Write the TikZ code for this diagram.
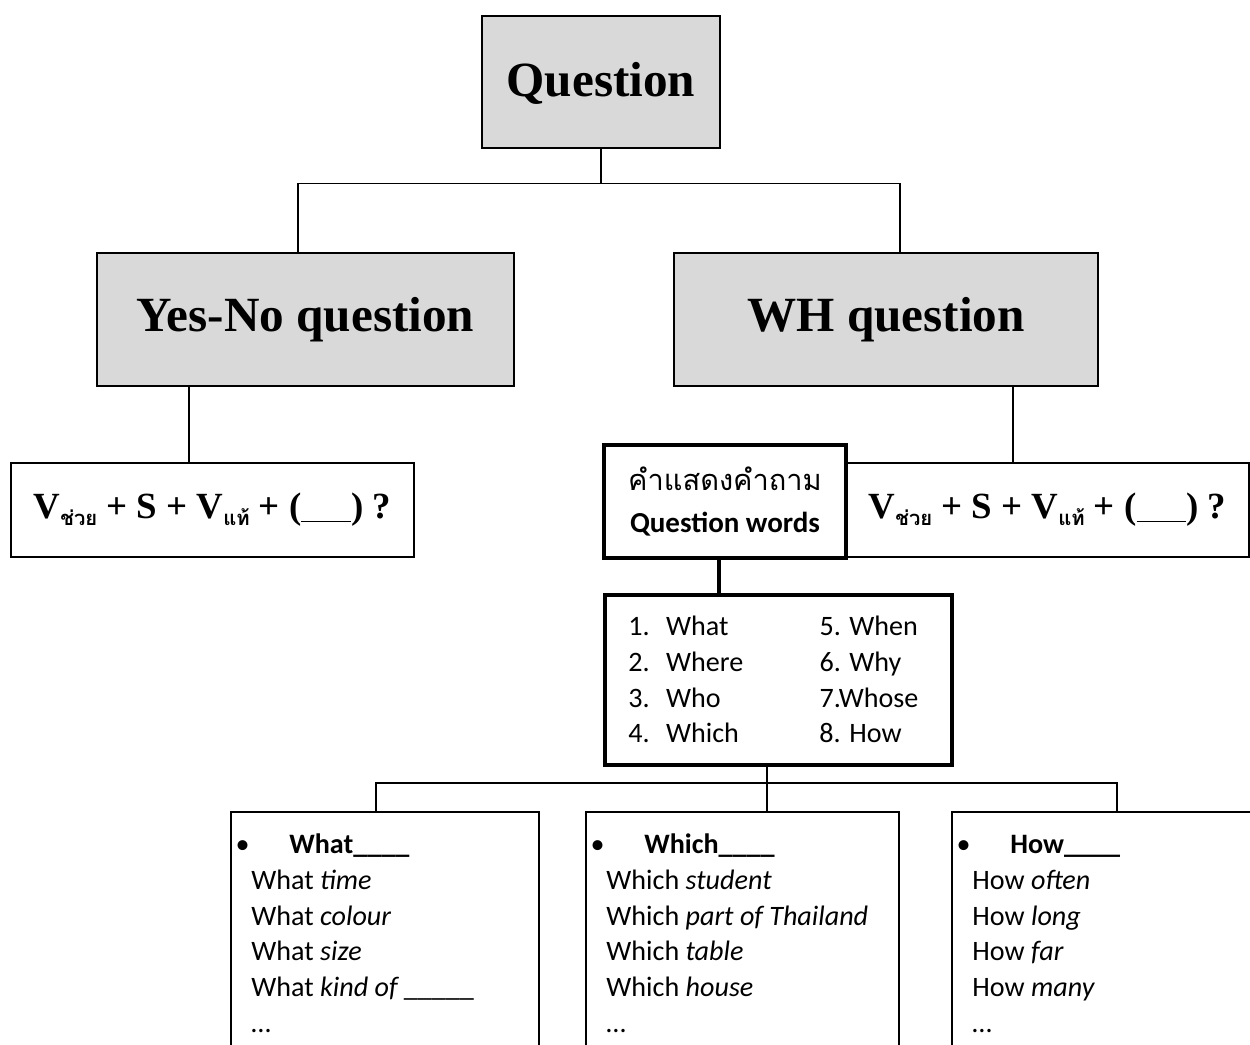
\documentclass[tikz,border=0pt]{standalone}
\usepackage{fontspec}
\setmainfont{Liberation Serif}
\newfontfamily\calib{Carlito}
\newfontfamily\thaifont[Script=Thai]{Loma}
\usetikzlibrary{positioning}
\definecolor{boxgray}{RGB}{217,217,217}

\newcommand{\thaisub}[1]{\raisebox{-4pt}{\thaifont\bfseries\fontsize{11.5}{12}\selectfont #1}}
\newcommand{\vform}{V\thaisub{ช่วย} + S + V\thaisub{แท้} + (\underline{\hspace{1.35em}}) ?}

\begin{document}
\begin{tikzpicture}[x=0.02cm,y=-0.02cm,
	head/.style={draw,fill=boxgray,line width=0.85pt,inner sep=0,font=\bfseries\fontsize{28}{32}\selectfont},
	formbox/.style={draw,fill=white,line width=0.85pt,inner sep=0,minimum width=8.06cm,minimum height=1.88cm,font=\bfseries\fontsize{21}{24}\selectfont},
	boldbox/.style={draw,fill=white,line width=2.3pt,inner sep=0},
	wordbox/.style={draw,line width=0.85pt,inner sep=0,anchor=north,minimum height=5cm},
	wordtext/.style={anchor=north west,inner sep=0,align=left,font=\calib\fontsize{16}{20.4}\selectfont},
	link/.style={line width=0.85pt},
	thicklink/.style={line width=2.3pt}]
				\useasboundingbox (0,0) rectangle (1250,1044);
				\clip (0,0) rectangle (1250,1044);
				% top levels
				\node[head,minimum width=4.76cm,minimum height=2.64cm,text depth=0.1cm] (quest) at (601,82) {Question};
				\node[head,minimum width=8.34cm,minimum height=2.66cm] (yesno) at (305.5,319.5) {Yes-No question};
				\node[head,minimum width=8.48cm,minimum height=2.66cm] (wh) at (886,319.5) {WH question};
				\coordinate (ynTop) at ([xshift=-0.15cm]yesno.north);
				\coordinate (whTop) at ([xshift=0.28cm]wh.north);
				\draw[link] (quest.south) -- ++(0,35) -| (ynTop);
				\draw[link] (quest.south) -- ++(0,35) -| (whTop);
				% formulas
				\node[formbox] (ynform) at (212.5,510) {\vform};
				\node[formbox] (whform) at (1047.5,510) {\vform};
				\coordinate (ynFoot) at ([xshift=-2.33cm]yesno.south);
				\coordinate (whFoot) at ([xshift=2.54cm]wh.south);
				\draw[link] (ynFoot) -- (ynFoot |- ynform.north);
				\draw[link] (whFoot) -- (whFoot |- whform.north);
				% question words
				\node[boldbox,minimum width=4.84cm,minimum height=2.26cm,align=center,font=\fontsize{16.5}{24.4}\selectfont] (qw) at (725,501.5) {{\thaifont คำแสดงคำถาม}\\{\calib\bfseries Question words}};
				\node[boldbox,minimum width=6.94cm,minimum height=3.4cm] (list) at (778.5,680) {};
				\node[anchor=north west,inner sep=0,font=\calib\fontsize{16}{20.4}\selectfont] (listtext) at ([xshift=0.5cm,yshift=-0.34cm]list.north west) {%
					\begin{tabular}{@{}p{21.5pt}@{}p{87.3pt}@{}l@{}}
						1. & What & 5. When\\
						2. & Where & 6. Why\\
						3. & Who & 7.Whose\\
						4. & Which & 8. How
					\end{tabular}};
				\draw[thicklink] ([xshift=-0.12cm]qw.south) -- ([xshift=-0.12cm]qw.south |- list.north);
				% bottom boxes
				\node[wordbox,minimum width=6.16cm] (what) at (385,811) {};
				\node[wordbox,minimum width=6.26cm] (which) at (742.5,811) {};
				\node[wordbox,minimum width=6.06cm] (how) at (1103.5,811) {};
				\coordinate (listFoot) at ([xshift=-0.23cm]list.south);
				\draw[link] (listFoot) -- ++(0,16) -| ([xshift=-0.18cm]what.north);
				\draw[link] (listFoot) -- ++(0,16) -| ([xshift=0.27cm]how.north);
				\draw[link] (listFoot) -- (listFoot |- which.north);
				\node[wordtext] (whattext) at ([xshift=0.1cm,yshift=-0.34cm]what.north west) {%
					\strut\makebox[30.6pt][l]{\textbullet}\textbf{What\_\_\_\_}\\
					\hspace*{9pt}What \textit{time}\\
					\hspace*{9pt}What \textit{colour}\\
					\hspace*{9pt}What \textit{size}\\
					\hspace*{9pt}What \textit{kind of}\,\_\_\_\_\_\\
					\hspace*{9pt}\dots};
				\node[wordtext] (whichtext) at ([xshift=0.1cm,yshift=-0.34cm]which.north west) {%
					\strut\makebox[30.6pt][l]{\textbullet}\textbf{Which\_\_\_\_}\\
					\hspace*{9pt}Which \textit{student}\\
					\hspace*{9pt}Which \textit{part of Thailand}\\
					\hspace*{9pt}Which \textit{table}\\
					\hspace*{9pt}Which \textit{house}\\
					\hspace*{9pt}\dots};
				\node[wordtext] (howtext) at ([xshift=0.1cm,yshift=-0.34cm]how.north west) {%
					\strut\makebox[30.6pt][l]{\textbullet}\textbf{How\_\_\_\_}\\
					\hspace*{9pt}How \textit{often}\\
					\hspace*{9pt}How \textit{long}\\
					\hspace*{9pt}How \textit{far}\\
					\hspace*{9pt}How \textit{many}\\
					\hspace*{9pt}\dots};
			\end{tikzpicture}
\end{document}
